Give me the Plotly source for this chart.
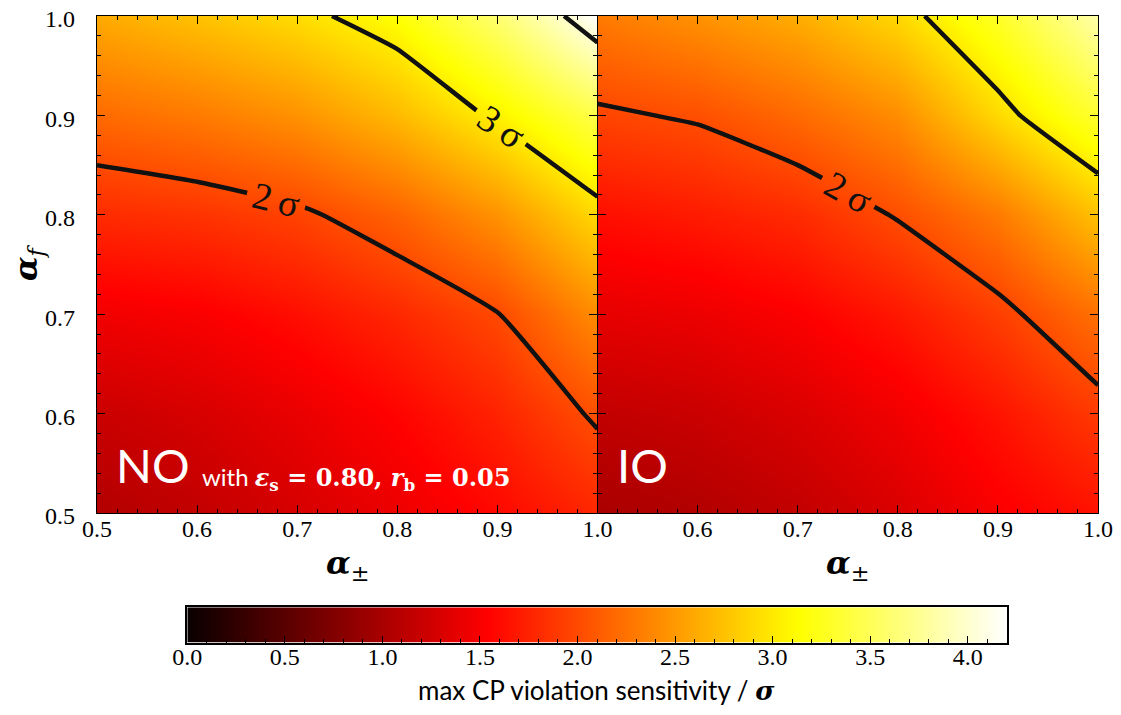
import plotly.graph_objects as go

# ---------------- data ----------------
alpha_pm = [0.5, 0.6, 0.7, 0.8, 0.9, 1.0]   # x axis
alpha_f = [0.5, 0.6, 0.7, 0.8, 0.9, 1.0]    # y axis

# rows follow alpha_f (bottom -> top), columns follow alpha_pm
sens_NO = [
    [1.05, 1.15, 1.28, 1.42, 1.58, 1.78],
    [1.20, 1.28, 1.40, 1.55, 1.75, 2.04],
    [1.45, 1.50, 1.62, 1.78, 1.99, 2.42],
    [1.80, 1.85, 1.95, 2.15, 2.45, 2.90],
    [2.20, 2.30, 2.45, 2.70, 3.05, 3.45],
    [2.60, 2.75, 2.92, 3.15, 3.60, 4.20],
]
sens_IO = [
    [1.00, 1.05, 1.15, 1.30, 1.50, 1.65],
    [1.15, 1.20, 1.30, 1.45, 1.65, 1.90],
    [1.38, 1.42, 1.52, 1.68, 1.92, 2.25],
    [1.62, 1.70, 1.80, 2.02, 2.30, 2.75],
    [1.96, 2.03, 2.20, 2.42, 2.90, 3.35],
    [2.30, 2.45, 2.62, 2.89, 3.30, 3.85],
]
cbar_range = [0.0, 4.2]
cbar_ticks = [0.0, 0.5, 1.0, 1.5, 2.0, 2.5, 3.0, 3.5, 4.0]
cbar_ticktext = ["0.0", "0.5", "1.0", "1.5", "2.0", "2.5", "3.0", "3.5", "4.0"]
axis_ticks = [0.5, 0.6, 0.7, 0.8, 0.9, 1.0]
axis_ticktext = ["0.5", "0.6", "0.7", "0.8", "0.9", "1.0"]

# ---------------- style ----------------
hot = [[0.0, "rgb(10,0,0)"], [0.365079, "rgb(255,0,0)"],
       [0.746032, "rgb(255,255,0)"], [1.0, "rgb(255,255,255)"]]
SERIF = "Liberation Serif, serif"
MATH = "DejaVu Serif"
SANS = "Lato"

# invisible colorbar (off canvas): only used so contour labels get a sigma suffix
hidden_cb = dict(thickness=0, len=0.001, x=-0.5, y=0.5, outlinewidth=0,
                 bgcolor="rgba(0,0,0,0)", ticks="", showticklabels=False,
                 tickformat=".0f", ticksuffix="\u2009σ", xpad=0, ypad=0)

contour_common = dict(
    colorscale=hot, zmin=cbar_range[0], zmax=cbar_range[1], zauto=False,
    autocontour=False,
    contours=dict(start=2, end=4, size=1, coloring="heatmap", showlines=True,
                  showlabels=True,
                  labelfont=dict(family=SERIF, size=38, color="#111111")),
    line=dict(color="#111111", width=4.5, smoothing=0.4),
    hoverinfo="skip",
)

fig = go.Figure()
fig.add_trace(go.Contour(x=alpha_pm, y=alpha_f, z=sens_NO, xaxis="x", yaxis="y",
                         showscale=True, colorbar=hidden_cb, **contour_common))
fig.add_trace(go.Contour(x=alpha_pm, y=alpha_f, z=sens_IO, xaxis="x2", yaxis="y2",
                         showscale=True, colorbar=hidden_cb, **contour_common))
# colour bar strip drawn on its own axes
fig.add_trace(go.Contour(x=cbar_range, y=[0, 1], z=[cbar_range, cbar_range],
                         xaxis="x3", yaxis="y3", colorscale=hot,
                         zmin=cbar_range[0], zmax=cbar_range[1], zauto=False,
                         contours=dict(coloring="heatmap", showlines=False,
                                       start=10, end=11, size=1),
                         line=dict(width=0), showscale=False, hoverinfo="skip"))

Y0 = 0.2723
tickfont = dict(family=SERIF, size=24, color="black")
ax_common = dict(range=[0.5, 1.0], ticks="inside", ticklen=8, tickwidth=1,
                 tickcolor="black", showline=True, linecolor="black",
                 linewidth=1.2, mirror="allticks", showgrid=False,
                 zeroline=False, automargin=False, tickfont=tickfont,
                 ticklabeloverflow="allow",
                 minor=dict(ticks="inside", ticklen=4, dtick=0.02,
                            tickcolor="black", tickwidth=1))

fig.update_layout(
    width=1105, height=699,
    margin=dict(l=89, r=15, t=8, b=8, autoexpand=False),
    paper_bgcolor="white", plot_bgcolor="white",
    font=dict(family=SERIF, color="black"),
    showlegend=False,
    xaxis=dict(domain=[0, 0.5], anchor="y", tickmode="array",
               tickvals=axis_ticks, ticktext=axis_ticktext,
               ticklabelstandoff=-6, **ax_common),
    yaxis=dict(domain=[Y0, 1], anchor="x", tickmode="array",
               tickvals=axis_ticks, ticktext=axis_ticktext,
               ticklabelstandoff=16, ticklabelshift=3, **ax_common),
    xaxis2=dict(domain=[0.5, 1], anchor="y2", tickmode="array",
                tickvals=axis_ticks[1:], ticktext=axis_ticktext[1:],
                ticklabelstandoff=-6, **ax_common),
    yaxis2=dict(domain=[Y0, 1], anchor="x2", tickmode="array",
                tickvals=axis_ticks, showticklabels=False, **ax_common),
    xaxis3=dict(domain=[0.09021, 0.90879], anchor="y3", range=cbar_range,
                tickmode="array", tickvals=cbar_ticks, ticktext=cbar_ticktext,
                ticks="inside", ticklen=7, tickcolor="black", tickwidth=1,
                minor=dict(ticks="inside", ticklen=3.5, dtick=0.1,
                           tickcolor="black", tickwidth=1),
                showline=True, linecolor="black", linewidth=1.5,
                mirror=True, showgrid=False, zeroline=False,
                tickfont=tickfont, automargin=False, ticklabelstandoff=-8,
                ticklabeloverflow="allow"),
    yaxis3=dict(domain=[0.08243, 0.13426], anchor="x3", range=[0, 1],
                showticklabels=False, ticks="", showline=True,
                linecolor="black", linewidth=1.5, mirror=True,
                showgrid=False, zeroline=False, automargin=False),
)

# axis titles
for xc in (0.25, 0.75):
    fig.add_annotation(x=xc, y=0.1962, xref="paper", yref="paper",
                       text="<b><i>α</i></b><sub>±</sub>", showarrow=False,
                       xanchor="center", yanchor="middle",
                       font=dict(family=MATH, size=32, color="black"))
fig.add_annotation(x=-0.0689, y=0.6384, xref="paper", yref="paper",
                   text="<b><i>α</i></b><sub><i>f</i></sub>", showarrow=False,
                   textangle=-90, xanchor="center", yanchor="middle",
                   font=dict(family=MATH, size=32, color="black"))
fig.add_annotation(x=0.4995, y=0.0132, xref="paper", yref="paper",
                   text="max CP violation sensitivity / "
                        "<span style=\"font-family:'DejaVu Serif'\"><b><i>σ</i></b></span>",
                   showarrow=False, xanchor="center", yanchor="middle",
                   font=dict(family=SANS, size=26, color="black"))

# panel labels
fig.add_annotation(x=0.517, y=0.548, xref="x", yref="y", text="NO",
                   showarrow=False, xanchor="left", yanchor="middle",
                   font=dict(family=SANS, size=47, color="white"))
fig.add_annotation(x=0.603, y=0.535, xref="x", yref="y",
                   text="with <span style=\"font-family:'DejaVu Serif'\"><b><i>ε</i><sub>s</sub> = 0.80, "
                        "<i>r</i><sub>b</sub> = 0.05</b></span>",
                   showarrow=False, xanchor="left", yanchor="middle",
                   font=dict(family=SANS, size=24, color="white"))
fig.add_annotation(x=0.517, y=0.548, xref="x2", yref="y2", text="IO",
                   showarrow=False, xanchor="left", yanchor="middle",
                   font=dict(family=SANS, size=47, color="white"))

fig.write_html("out.html")
